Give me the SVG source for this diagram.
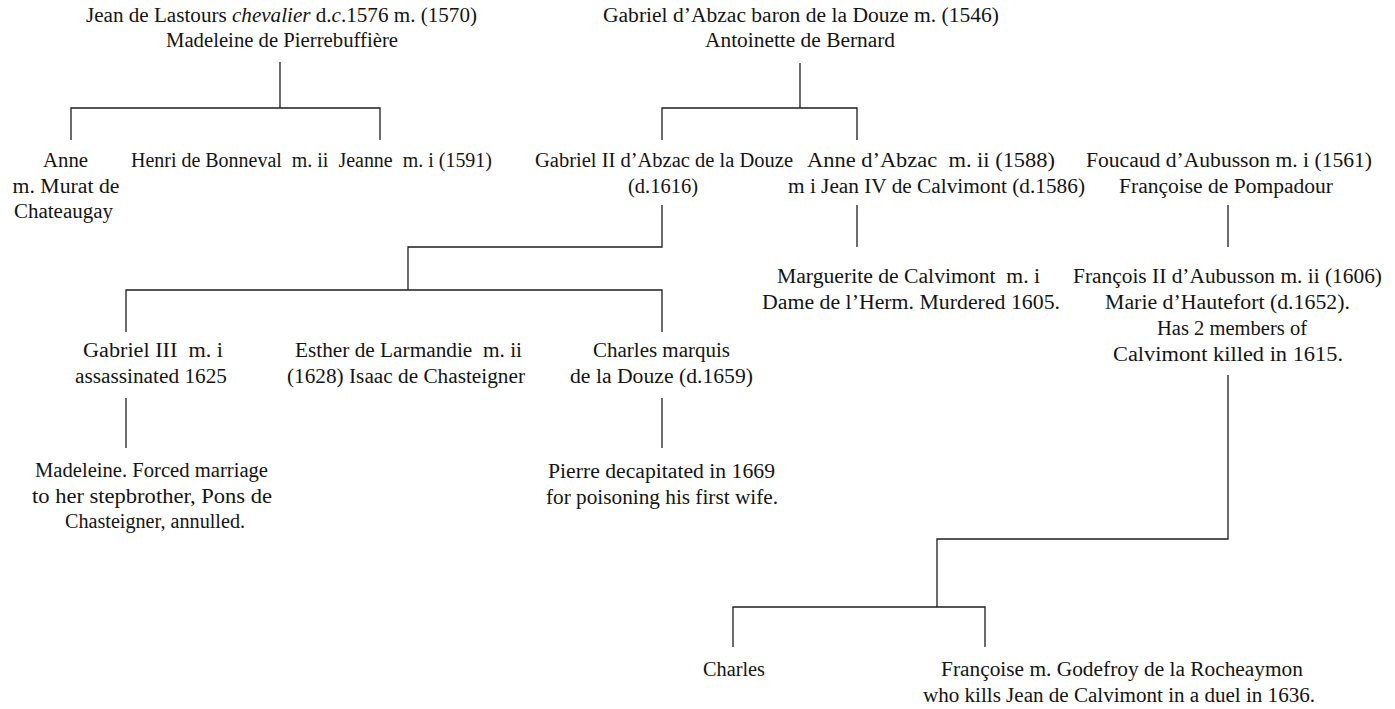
<svg xmlns="http://www.w3.org/2000/svg" width="1395" height="709" viewBox="0 0 1395 709">
<style>
.t{font-family:"Liberation Serif","Times New Roman",serif;font-size:20px;fill:#141414;text-anchor:middle;lengthAdjust:spacingAndGlyphs}
.c{stroke:#1e1e1e;stroke-width:1.3;fill:none}
</style>
<rect width="1395" height="709" fill="#ffffff"/>
<g id="connectors" class="c">
<path d="M280,62V108M71,140V108H380V140"/>
<path d="M800,63V108M662,140V108H857V140"/>
<path d="M662,205V247H408V290M126,332V290H662V332"/>
<path d="M857,205V247"/>
<path d="M1228,205V247"/>
<path d="M126,398V448"/>
<path d="M662,398V448"/>
<path d="M1228,375V539H937V607M733,647V607H985V647"/>
</g>
<g id="lastours">
<text class="t" x="281.5" y="22" textLength="391" lengthAdjust="spacingAndGlyphs">Jean de Lastours <tspan font-style="italic">chevalier</tspan> d.<tspan font-style="italic">c</tspan>.1576 m. (1570)</text>
<text class="t" x="282" y="47" textLength="232" lengthAdjust="spacingAndGlyphs">Madeleine de Pierrebuffière</text>
</g>
<g id="abzac">
<text class="t" x="801" y="22" textLength="396" lengthAdjust="spacingAndGlyphs">Gabriel d’Abzac baron de la Douze m. (1546)</text>
<text class="t" x="800" y="47" textLength="190" lengthAdjust="spacingAndGlyphs">Antoinette de Bernard</text>
</g>
<g id="anne">
<text class="t" x="65.5" y="167" textLength="45" lengthAdjust="spacingAndGlyphs">Anne</text>
<text class="t" x="66" y="193" textLength="107" lengthAdjust="spacingAndGlyphs">m. Murat de</text>
<text class="t" x="63.5" y="218" textLength="99" lengthAdjust="spacingAndGlyphs">Chateaugay</text>
</g>
<g id="henri">
<text class="t" x="311.5" y="167" textLength="361" lengthAdjust="spacingAndGlyphs" xml:space="preserve">Henri de Bonneval  m. ii  Jeanne  m. i (1591)</text>
</g>
<g id="gabriel2">
<text class="t" x="664" y="167" textLength="258" lengthAdjust="spacingAndGlyphs">Gabriel II d’Abzac de la Douze</text>
<text class="t" x="663" y="193" textLength="70" lengthAdjust="spacingAndGlyphs">(d.1616)</text>
</g>
<g id="anne-abzac">
<text class="t" x="931" y="167" textLength="248" lengthAdjust="spacingAndGlyphs" xml:space="preserve">Anne d’Abzac  m. ii (1588)</text>
<text class="t" x="936.5" y="193" textLength="297" lengthAdjust="spacingAndGlyphs">m i Jean IV de Calvimont (d.1586)</text>
</g>
<g id="foucaud">
<text class="t" x="1229" y="167" textLength="286" lengthAdjust="spacingAndGlyphs">Foucaud d’Aubusson m. i (1561)</text>
<text class="t" x="1226" y="193" textLength="214" lengthAdjust="spacingAndGlyphs">Françoise de Pompadour</text>
</g>
<g id="marguerite">
<text class="t" x="908.5" y="283" textLength="263" lengthAdjust="spacingAndGlyphs" xml:space="preserve">Marguerite de Calvimont  m. i</text>
<text class="t" x="911" y="309" textLength="298" lengthAdjust="spacingAndGlyphs">Dame de l’Herm. Murdered 1605.</text>
</g>
<g id="francois2">
<text class="t" x="1227.5" y="283" textLength="309" lengthAdjust="spacingAndGlyphs">François II d’Aubusson m. ii (1606)</text>
<text class="t" x="1227.5" y="309" textLength="245" lengthAdjust="spacingAndGlyphs">Marie d’Hautefort (d.1652).</text>
<text class="t" x="1232" y="335" textLength="150" lengthAdjust="spacingAndGlyphs">Has 2 members of</text>
<text class="t" x="1228" y="361" textLength="230" lengthAdjust="spacingAndGlyphs">Calvimont killed in 1615.</text>
</g>
<g id="gabriel3">
<text class="t" x="153" y="357" textLength="140" lengthAdjust="spacingAndGlyphs" xml:space="preserve">Gabriel III  m. i</text>
<text class="t" x="151" y="383" textLength="152" lengthAdjust="spacingAndGlyphs">assassinated 1625</text>
</g>
<g id="esther">
<text class="t" x="408.5" y="357" textLength="227" lengthAdjust="spacingAndGlyphs" xml:space="preserve">Esther de Larmandie  m. ii</text>
<text class="t" x="406" y="383" textLength="238" lengthAdjust="spacingAndGlyphs">(1628) Isaac de Chasteigner</text>
</g>
<g id="charles-marquis">
<text class="t" x="661.5" y="357" textLength="137" lengthAdjust="spacingAndGlyphs">Charles marquis</text>
<text class="t" x="661.5" y="383" textLength="183" lengthAdjust="spacingAndGlyphs">de la Douze (d.1659)</text>
</g>
<g id="madeleine">
<text class="t" x="151.5" y="477" textLength="233" lengthAdjust="spacingAndGlyphs">Madeleine. Forced marriage</text>
<text class="t" x="152" y="503" textLength="240" lengthAdjust="spacingAndGlyphs">to her stepbrother, Pons de</text>
<text class="t" x="155" y="528" textLength="180" lengthAdjust="spacingAndGlyphs">Chasteigner, annulled.</text>
</g>
<g id="pierre">
<text class="t" x="661.5" y="478" textLength="227" lengthAdjust="spacingAndGlyphs">Pierre decapitated in 1669</text>
<text class="t" x="662" y="504" textLength="232" lengthAdjust="spacingAndGlyphs">for poisoning his first wife.</text>
</g>
<g id="charles">
<text class="t" x="734" y="676" textLength="62" lengthAdjust="spacingAndGlyphs">Charles</text>
</g>
<g id="francoise">
<text class="t" x="1122" y="676" textLength="362" lengthAdjust="spacingAndGlyphs">Françoise m. Godefroy de la Rocheaymon</text>
<text class="t" x="1119" y="702" textLength="392" lengthAdjust="spacingAndGlyphs">who kills Jean de Calvimont in a duel in 1636.</text>
</g>
</svg>
